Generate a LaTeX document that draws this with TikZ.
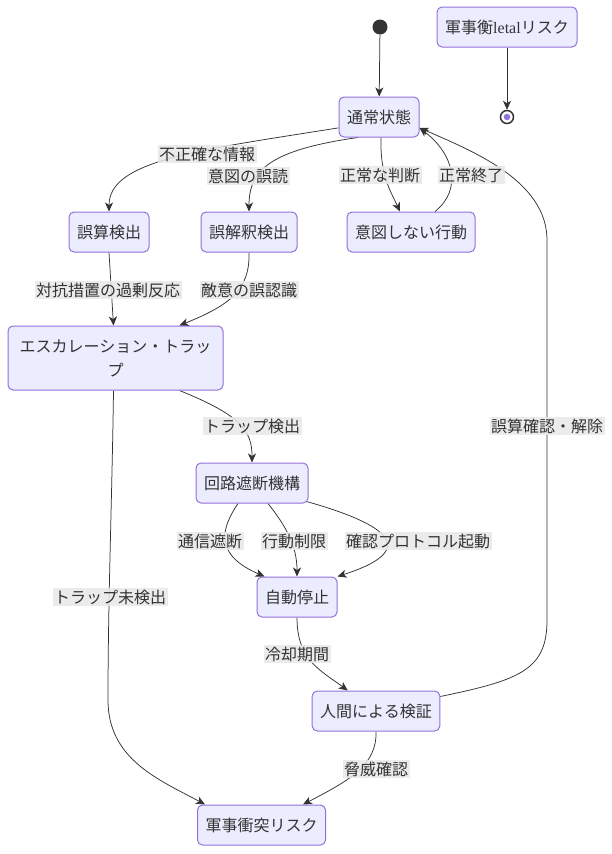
\documentclass[tikz,border=0pt]{standalone}
\usepackage{fontspec}
\setmainfont{Noto Sans CJK JP}
\newfontfamily\latinserif{Liberation Serif}
\usetikzlibrary{arrows.meta,calc}
\definecolor{nodefill}{HTML}{ECECFF}
\definecolor{nodeborder}{HTML}{9370DB}
\definecolor{lblbg}{HTML}{E8E8E8}
\definecolor{ink}{HTML}{333333}
\pgfdeclarelayer{bgzero}
\pgfdeclarelayer{edges}
\pgfsetlayers{bgzero,edges,main}
\begin{document}
\begin{tikzpicture}[x=1pt,y=-1pt,
  state/.style={draw=nodeborder, fill=nodefill, line width=1pt, rounded corners=5pt,
    minimum height=40pt, inner xsep=8pt, font=\fontsize{16}{20}\selectfont, text=ink},
  lbl/.style={fill=lblbg, fill opacity=0.85, text opacity=1, inner xsep=1.5pt, inner ysep=1.5pt,
    font=\fontsize{16}{20}\selectfont, text=ink},
  arr/.style={draw=ink, line width=0.75pt, -{Stealth[length=9pt,width=8pt,inset=2.5pt]}}]

\begin{pgfonlayer}{bgzero}
  \fill[white] (0,0) rectangle (612,854);
\end{pgfonlayer}
\useasboundingbox (0,0) rectangle (612,854);

% states
\node[circle, fill=ink, minimum size=15pt, inner sep=0pt] (start) at (380,27) {};
\node[state, minimum width=140pt] (letal) at (507,27) {軍事衡{\latinserif letal}リスク};
\node[circle, draw=ink, line width=1.5pt, fill=white, minimum size=13pt, inner sep=0pt] (endst) at (507,117) {};
\node[circle, fill=nodeborder, minimum size=6.5pt, inner sep=0pt] (endin) at (endst) {};
\node[state] (normal) at (379,117) {通常状態};
\node[state] (gosan) at (109,232) {誤算検出};
\node[state] (gokai) at (249,232) {誤解釈検出};
\node[state] (ito) at (411,232) {意図しない行動};
\node[state, minimum height=64pt, minimum width=215pt, align=center,
      font=\fontsize{16}{24}\selectfont] (esc) at (115.5,358) {エスカレーション・トラッ\\プ};
\node[state] (kairo) at (252,483) {回路遮断機構};
\node[state] (auto) at (297,597) {自動停止};
\node[state] (human) at (376,711) {人間による検証};
\node[state] (gunji) at (261.5,825) {軍事衝突リスク};

% edge labels
\node[lbl] (l1) at (207,154) {不正確な情報};
\node[lbl] (l2) at (248,176) {意図の誤読};
\node[lbl] (l3) at (380,175) {正常な判断};
\node[lbl] (l4) at (471,175) {正常終了};
\node[lbl] (l5) at (108,290) {対抗措置の過剰反応};
\node[lbl] (l6) at (249,290) {敵意の誤認識};
\node[lbl] (l7) at (252,426) {トラップ検出};
\node[lbl] (l8) at (210,541) {通信遮断};
\node[lbl] (l9) at (294,541) {行動制限};
\node[lbl] (l10) at (418,541) {確認プロトコル起動};
\node[lbl] (l11) at (110,597) {トラップ未検出};
\node[lbl] (l12) at (297,654) {冷却期間};
\node[lbl] (l13) at (547,426) {誤算確認・解除};
\node[lbl] (l14) at (376,769) {脅威確認};

% edges
\begin{pgfonlayer}{edges}
\draw[arr] (start) -- (normal);
\draw[arr] (letal) -- (endst);
\draw[arr] (normal.195) .. controls (200,150) and (109,160) .. (gosan.north);
\draw[arr] ($(normal.south)+(-21,0)$) .. controls (270,150) and (249,170) .. (gokai.north);
\draw[arr] ($(normal.south)+(2,0)$) .. controls (380,175) and (390,190) .. ($(ito.north)+(-11,0)$);
\draw[arr] ($(ito.north)+(24,0)$) .. controls (462,190) and (455,155) .. (normal.-15);
\draw[arr] (gosan.south) -- ($(esc.north)+(-2,0)$);
\draw[arr] (gokai.south) .. controls (250,290) and (230,305) .. ($(esc.north)+(64,0)$);
\draw[arr] ($(esc.south)+(64,0)$) .. controls (240,415) and (252,430) .. (kairo.north);
\draw[arr] ($(esc.south)+(-2,0)$) .. controls (112,500) and (108,600) .. (108,700)
           .. controls (108,760) and (160,780) .. ($(gunji.north west)+(8,0)$);
\draw[arr] ($(kairo.south)+(-14,0)$) .. controls (220,530) and (215,555) .. ($(auto.north west)+(8,0)$);
\draw[arr] ($(kairo.south)+(16,0)$) .. controls (285,525) and (297,545) .. (auto.north);
\draw[arr] ($(kairo.south east)+(-2,-2)$) .. controls (390,525) and (420,550) .. (auto.north east);
\draw[arr] (auto.south) .. controls (297,660) and (320,670) .. ($(human.north west)+(36,0)$);
\draw[arr] (human.south) .. controls (377,765) and (350,780) .. ($(gunji.north east)+(-23,0)$);
\draw[arr] ($(human.north east)+(0,6)$) .. controls (520,680) and (547,670) .. (547,620)
           -- (547,240) .. controls (547,180) and (470,150) .. (normal.-15);
\end{pgfonlayer}
\end{tikzpicture}
\end{document}
